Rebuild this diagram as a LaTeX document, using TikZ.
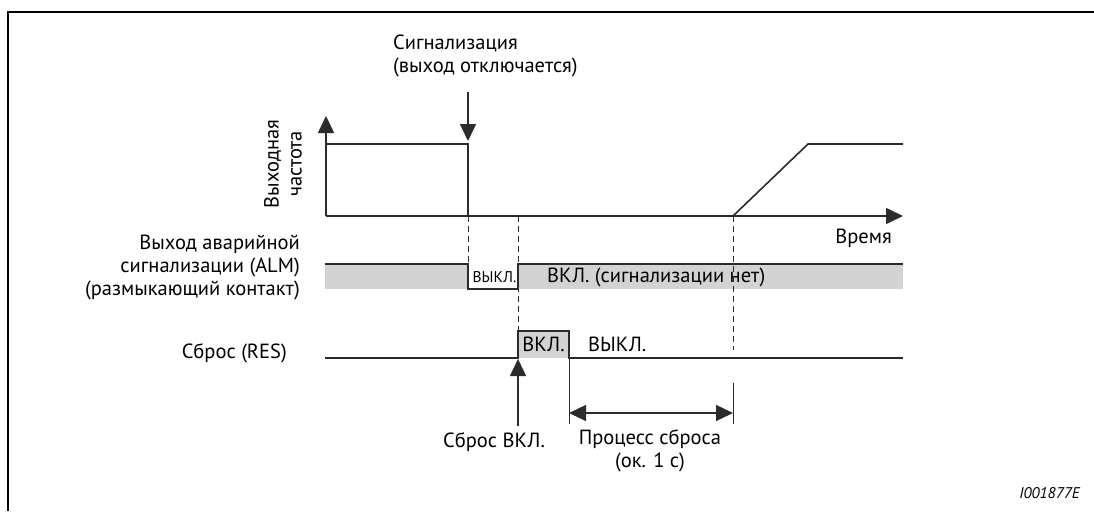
\documentclass[tikz,border=0pt]{standalone}
\usepackage{fontspec}
\setmainfont{PT Sans}
\usetikzlibrary{arrows.meta}
\definecolor{siggray}{HTML}{D3D3D3}
\definecolor{sigdark}{HTML}{2B2B2B}
\tikzset{
  frameline/.style={line width=2.4pt, draw=black},
  axisarrow/.style={
    line width=1.6pt,
    draw=sigdark,
    -{Triangle[length=17pt,width=16pt]}
  },
  markarrow/.style={
    line width=1.4pt,
    draw=sigdark,
    -{Triangle[length=17pt,width=16pt]}
  },
  dimarrow/.style={
    line width=1.3pt,
    draw=sigdark,
    {Triangle[length=17pt,width=16pt]}-{Triangle[length=17pt,width=16pt]}
  },
  sigline/.style={line width=1.6pt, draw=sigdark},
  thinline/.style={line width=1pt, draw=sigdark},
  dashline/.style={line width=1pt, draw=sigdark, dash pattern=on 6pt off 4pt},
  lbl/.style={inner sep=0pt, font=\fontsize{20.5}{23}\selectfont},
  smalllbl/.style={inner sep=0pt, font=\fontsize{15.5}{18}\selectfont}
}
\begin{document}
\begin{tikzpicture}[x=1pt, y=-1pt]
    \useasboundingbox (0,0) rectangle (1094,511);
    \draw[frameline] (8,511) -- (8,12) -- (1094,12);

    % axes of the output frequency
    \coordinate (origin) at (326,216);
    \coordinate (ytip) at (326,116);
    \coordinate (xtip) at (903,216);
    \draw[axisarrow] (origin) -- (ytip);
    \draw[axisarrow] (origin) -- (xtip);
    \node[lbl, rotate=90, align=center] (freqlbl) at (283,164) {Выходная\\частота};
    \node[lbl, anchor=east] (timelbl) at (892,238) {Время};

    % output frequency
    \coordinate (fstart) at (326,144);
    \coordinate (fstop) at (468,144);
    \coordinate (fzero) at (468,216);
    \coordinate (rampstart) at (733,216);
    \coordinate (rampend) at (808,144);
    \coordinate (fend) at (903,144);
    \draw[sigline] (fstart) -- (fstop) -- (fzero);
    \draw[sigline] (rampstart) -- (rampend) -- (fend);

    % alarm
    \node[lbl, anchor=west, align=left] (alarmlbl) at (393,55.5) {Сигнализация\\(выход отключается)};
    \coordinate (almtop) at (468,92);
    \coordinate (almtip) at (468,141);
    \draw[markarrow] (almtop) -- (almtip);

    % ALM output
    \fill[siggray] (325,264) rectangle (468,289);
    \fill[siggray] (518,264) rectangle (903,289);
    \draw[sigline] (325,264) -- (468,264) -- (468,289) -- (518,289) -- (518,264) -- (903,264);
    \node[lbl, anchor=east, align=right] (almlbl) at (300,267) {Выход аварийной\\сигнализации (ALM)\\(размыкающий контакт)};
    \node[smalllbl] (almoff) at (494.5,277) {ВЫКЛ.};
    \node[lbl, anchor=west] (almon) at (547,277) {ВКЛ. (сигнализации нет)};

    % RES input
    \fill[siggray] (518,331) rectangle (569,358);
    \draw[sigline] (325,358) -- (518,358) -- (518,331) -- (569,331) -- (569,358) -- (903,358);
    \node[lbl, anchor=east] (reslbl) at (287,353) {Сброс (RES)};
    \node[lbl] (reson) at (543.5,344) {ВКЛ.};
    \node[lbl, anchor=west] (resoff) at (588,344) {ВЫКЛ.};

    % time marks
    \draw[dashline] (468,216) -- (468,264);
    \draw[dashline] (518,216) -- (518,331);
    \draw[dashline] (733,216) -- (733,350);

    % reset ON
    \coordinate (resbot) at (518,426);
    \coordinate (restip) at (518,359);
    \draw[markarrow] (resbot) -- (restip);
    \node[lbl] (resonlbl) at (494,442) {Сброс ВКЛ.};

    % reset process
    \coordinate (procleft) at (569,413);
    \coordinate (procright) at (733,413);
    \draw[thinline] (569,358) -- (569,424);
    \draw[thinline] (733,383) -- (733,424);
    \draw[dimarrow] (procleft) -- (procright);
    \node[lbl, align=center] (proclbl) at (650,451) {Процесс сброса\\(ок. 1 с)};

    \node[inner sep=0pt, anchor=east, font=\fontsize{15.5}{18}\selectfont\itshape] (figid) at (1080,493) {I001877E};
\end{tikzpicture}
\end{document}
